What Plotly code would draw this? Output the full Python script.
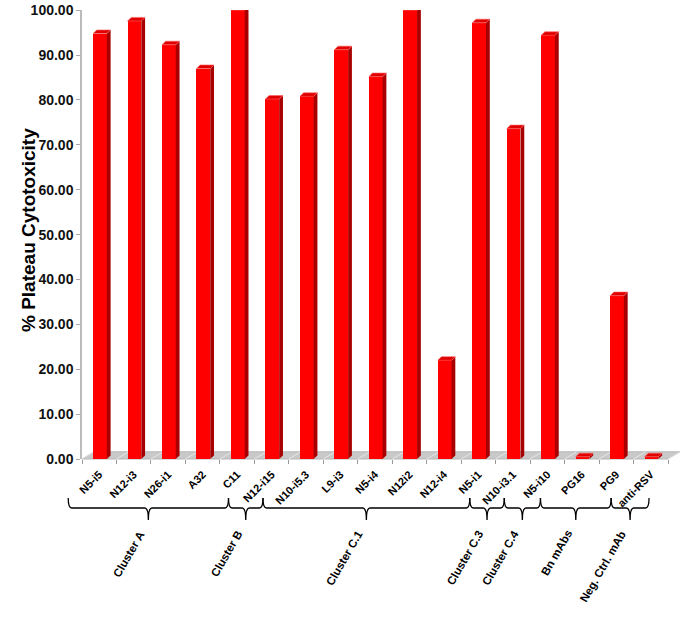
import plotly.graph_objects as go

# antibody names and % plateau cytotoxicity
antibodies = ["N5-i5", "N12-i3", "N26-i1", "A32", "C11", "N12-i15", "N10-i5.3", "L9-i3",
              "N5-i4", "N12i2", "N12-i4", "N5-i1", "N10-i3.1", "N5-i10", "PG16", "PG9", "anti-RSV"]
cytotox = [94.8, 97.6, 92.3, 87.0, 100.0, 80.2, 80.8, 91.2, 85.2, 100.0, 22.0, 97.2, 73.6, 94.4, 0.5, 36.4, 0.5]

# clusters and the edges of their brackets, in category units
clusters = ["Cluster A", "Cluster B", "Cluster C.1", "Cluster C.3", "Cluster C.4", "Bn mAbs", "Neg. Ctrl. mAb"]
bracket_edges = [-0.9, 3.75, 4.75, 10.75, 11.75, 12.8, 14.85, 15.95]

FONT = "Arial, Liberation Sans, sans-serif"
N = len(antibodies)
RED = "#ff0000"
DARK = "#a80000"
TOP = "#e00000"

x = list(range(N))

# 3D side and top faces of each bar
f0, f1, s1, rise = -0.18, 0.22, 0.33, 0.8
side_x, side_y, top_x, top_y = [], [], [], []
for i, v in zip(x, cytotox):
    side_x += [i + f1, i + f1, i + s1, i + s1, i + f1, None]
    side_y += [0, v, v + rise, rise, 0, None]
    top_x += [i + f0, i + f1, i + s1, i + f0 + (s1 - f1), i + f0, None]
    top_y += [v, v, v + rise, v + rise, v, None]

fig = go.Figure()
fig.add_trace(go.Bar(
    x=x, y=cytotox, width=f1 - f0, offset=f0,
    marker=dict(color=RED, line=dict(width=0)),
    cliponaxis=False, showlegend=False, hoverinfo="skip"
))
fig.add_trace(go.Scatter(
    x=side_x, y=side_y, mode="lines", fill="toself", fillcolor=DARK,
    line=dict(width=0, color=DARK), cliponaxis=False, showlegend=False, hoverinfo="skip"
))
fig.add_trace(go.Scatter(
    x=top_x, y=top_y, mode="lines", fill="toself", fillcolor=TOP,
    line=dict(width=0.6, color="#ff6060"), cliponaxis=False, showlegend=False, hoverinfo="skip"
))


def px(c):
    # category units -> paper x
    return (c + 0.5) / N


shapes = []
# gray floor
dx_floor, dy_floor = 0.35 / N, 1.6 / 100
shapes.append(dict(
    type="path", xref="paper", yref="paper", layer="below",
    path=f"M 0,0 L 1,0 L {1 + dx_floor},{dy_floor} L {dx_floor},{dy_floor} Z",
    fillcolor="#c9c9c9", line=dict(color="#b5b5b5", width=1)
))
for k in range(N + 1):
    xb = k / N
    shapes.append(dict(type="line", xref="paper", yref="paper", layer="below",
                       x0=xb, x1=xb + dx_floor, y0=0, y1=dy_floor,
                       line=dict(color="#e6e6e6", width=1)))

# curly brackets under the labels
plot_h = 449.0
y_end = -(498 - 459) / plot_h
y_mid = -(508 - 459) / plot_h
y_tip = -(520 - 459) / plot_h
r = 0.006
for a_c, b_c in zip(bracket_edges[:-1], bracket_edges[1:]):
    a, b = px(a_c), px(b_c)
    c = (a + b) / 2
    path = (f"M {a},{y_end} Q {a},{y_mid} {a + r},{y_mid} L {c - r},{y_mid} "
            f"Q {c},{y_mid} {c},{y_tip} Q {c},{y_mid} {c + r},{y_mid} "
            f"L {b - r},{y_mid} Q {b},{y_mid} {b},{y_end}")
    shapes.append(dict(type="path", xref="paper", yref="paper", path=path,
                       line=dict(color="black", width=1.3)))

annotations = []
for name, a_c, b_c in zip(clusters, bracket_edges[:-1], bracket_edges[1:]):
    c = (px(a_c) + px(b_c)) / 2
    annotations.append(dict(
        text=name, xref="paper", yref="paper", x=c + 0.002, y=-(526 - 459) / plot_h,
        xanchor="right", yanchor="top", textangle=-60, showarrow=False,
        font=dict(family=FONT, size=11.5, color="black", weight="bold")
    ))

# y axis title, placed by hand
annotations.append(dict(
    text="% Plateau Cytotoxicity", xref="paper", yref="paper",
    x=(28 - 82) / 586, y=0.51, xanchor="center", yanchor="middle",
    textangle=-90, showarrow=False,
    font=dict(family=FONT, size=19, color="black", weight="bold")
))

fig.update_layout(
    width=680, height=620,
    margin=dict(l=82, r=12, t=10, b=161),
    plot_bgcolor="white", paper_bgcolor="white",
    shapes=shapes, annotations=annotations,
    bargap=0,
    xaxis=dict(
        range=[-0.5, N - 0.5], tickmode="array", tickvals=x, ticktext=antibodies,
        tickangle=-45, ticks="", showgrid=False, zeroline=False, showline=False,
        automargin=False, ticklabelstandoff=6,
        tickfont=dict(family=FONT, size=11, color="black", weight="bold"),
        minor=dict(tickvals=[k - 0.5 for k in range(N + 1)], ticks="outside",
                   ticklen=4, tickcolor="#999999", showgrid=False),
    ),
    yaxis=dict(
        range=[0, 100.05], tickmode="linear", tick0=0, dtick=10, tickformat=".2f",
        ticks="outside", ticklen=4, tickcolor="#aaaaaa",
        showline=True, linecolor="#bbbbbb", linewidth=1.5,
        showgrid=False, zeroline=False, automargin=False,
        tickfont=dict(family=FONT, size=14, color="#111111", weight="bold"),
    ),
)

# page body has a default 8px margin; drop it so the figure sits at the window corner
fig.write_html("out.html", config={"displayModeBar": False},
               post_script="document.body.style.margin='0';")
